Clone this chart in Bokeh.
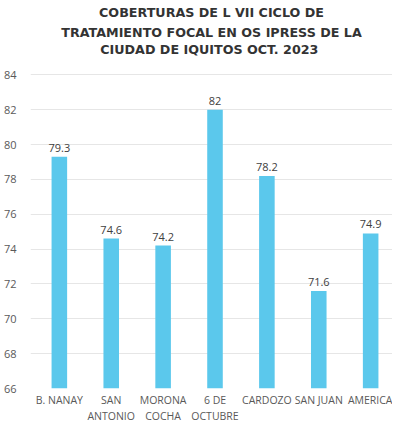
from bokeh.plotting import figure
from bokeh.models import ColumnDataSource, Range1d, FixedTicker, Title
from bokeh.embed import file_html
from bokeh.resources import INLINE
from bokeh.core.properties import value

categories = ["B. NANAY", "SAN\nANTONIO", "MORONA\nCOCHA", "6 DE\nOCTUBRE", "CARDOZO", "SAN JUAN", "AMERICA"]
coverage = [79.3, 74.6, 74.2, 82, 78.2, 71.6, 74.9]
labels = ["79.3", "74.6", "74.2", "82", "78.2", "71.6", "74.9"]
y_ticks = [66, 68, 70, 72, 74, 76, 78, 80, 82, 84]
title_lines = ["COBERTURAS DE L VII CICLO DE",
               "TRATAMIENTO FOCAL EN OS IPRESS DE LA",
               "CIUDAD DE IQUITOS OCT.  2023"]

pos = list(range(len(categories)))
src = ColumnDataSource(dict(x=pos, val=coverage, lab=labels))

p = figure(x_range=Range1d(-0.556, 6.421), y_range=Range1d(66, 85.05),
           width=392, height=426, output_backend="svg", title=None,
           toolbar_location=None, min_border_left=30, min_border_right=0,
           min_border_bottom=0, min_border_top=0)
for i, line in enumerate(reversed(title_lines)):
    p.add_layout(Title(text=line, align="center", text_font="DejaVu Sans",
                       text_font_size="12.7px", text_color="#333333",
                       text_font_style="bold",
                       standoff=5 if i == len(title_lines) - 1 else 0,
                       offset=0, text_line_height=1.0), "above")

p.vbar(x="x", top="val", bottom=66, width=0.3, source=src,
       fill_color="#5BC8EC", line_color=None)
p.text(x="x", y="val", text="lab", source=src, text_align="center",
       text_baseline="bottom", y_offset=-5, text_font=value("Open Sans"),
       text_font_size="11px", text_color="#404040")

p.yaxis.ticker = FixedTicker(ticks=y_ticks)
p.xaxis.ticker = FixedTicker(ticks=pos)
p.xaxis.major_label_overrides = {i: c for i, c in zip(pos, categories)}
for ax in (p.xaxis, p.yaxis):
    ax.axis_label = None
    ax.axis_line_color = None
    ax.major_tick_line_color = None
    ax.minor_tick_line_color = None
    ax.major_tick_out = 0
    ax.major_tick_in = 0
    ax.minor_tick_out = 0
    ax.axis_label_standoff = 0
    ax.major_label_text_font = "Open Sans"
    ax.major_label_text_color = "#595959"
p.yaxis.major_label_text_font_size = "11px"
p.xaxis.major_label_text_font_size = "10.5px"
p.xaxis.major_label_text_line_height = 1.2
p.yaxis.major_label_standoff = 14
p.xaxis.major_label_standoff = 4
p.xgrid.grid_line_color = None
p.ygrid.grid_line_color = "#e6e6e6"
p.outline_line_color = None

open("out.html", "w").write(file_html(p, INLINE))
